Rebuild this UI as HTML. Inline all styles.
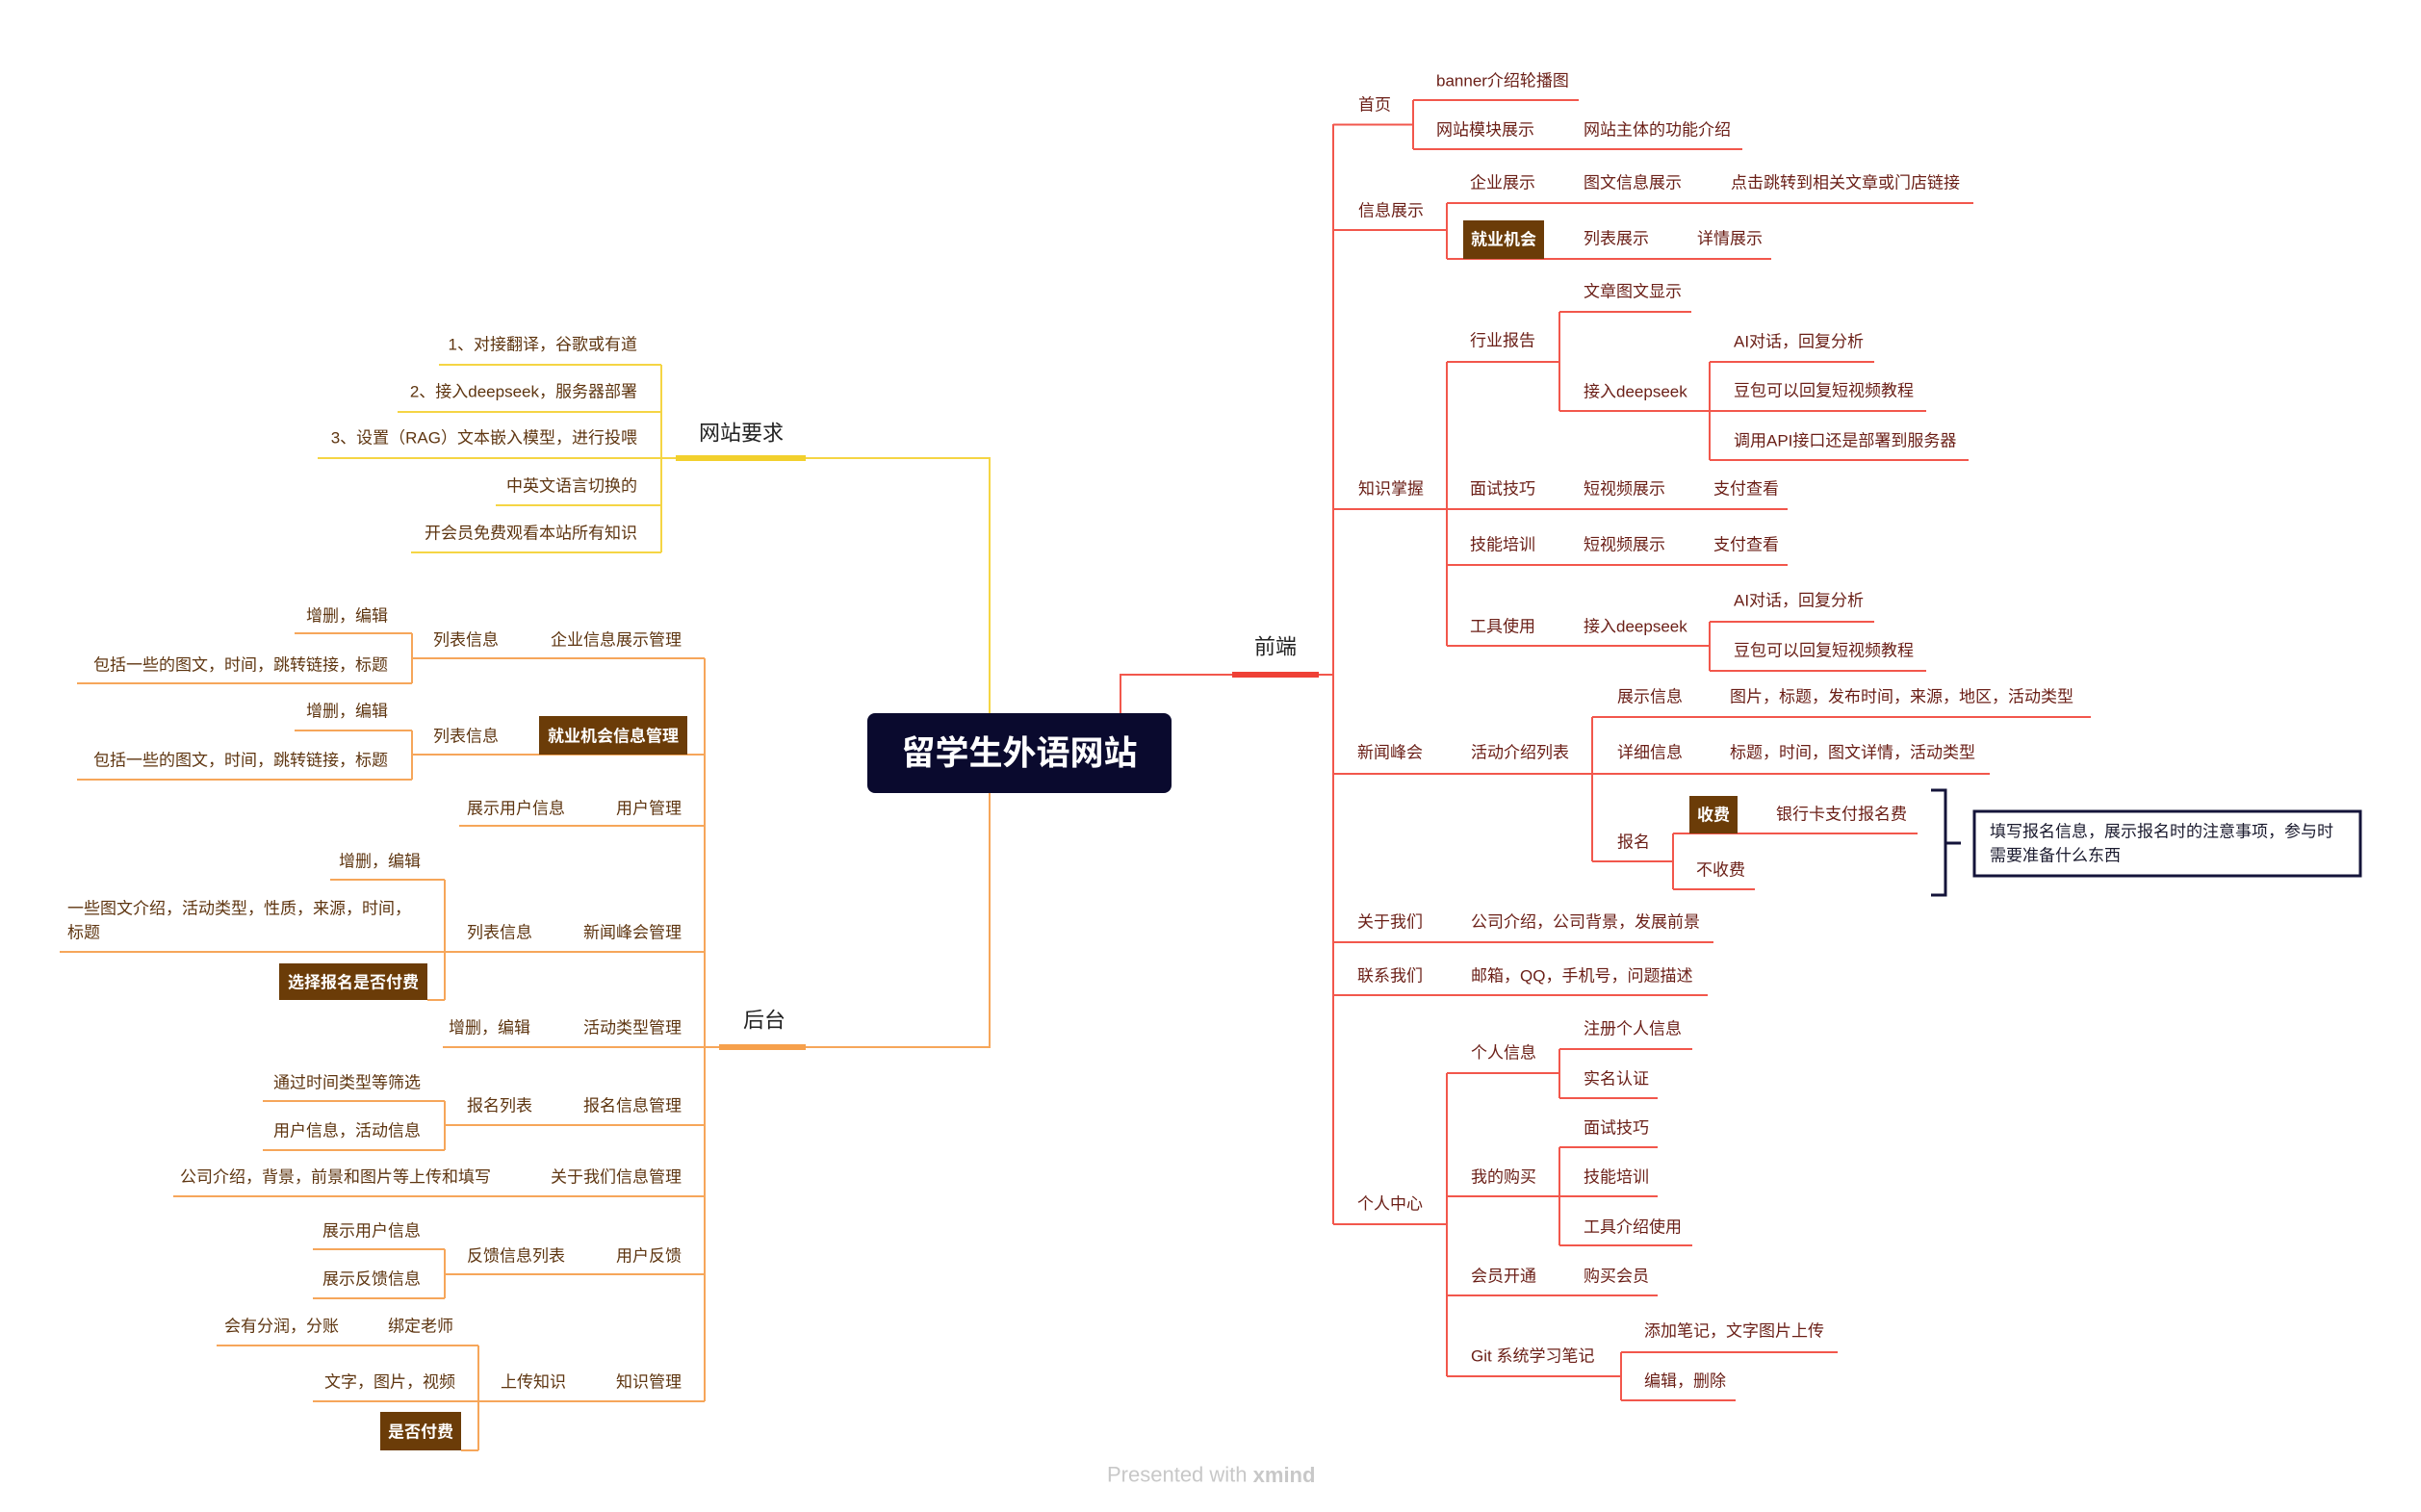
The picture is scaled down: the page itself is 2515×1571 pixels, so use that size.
<!DOCTYPE html>
<html><head><meta charset="utf-8"><style>
html,body{margin:0;padding:0;background:#fff;}
svg{display:block;}
text{font-family:"Liberation Sans","Noto Sans CJK SC",sans-serif;font-size:17px;dominant-baseline:central;}
.l{fill:#5e3510;}
.r{fill:#6a1e16;}
.w{fill:#fff;font-weight:bold;}
.y{stroke:#f5d544;stroke-width:2;fill:none;}
.o{stroke:#f6a65a;stroke-width:2;fill:none;}
.rd{stroke:#f2574c;stroke-width:2;fill:none;}
</style></head><body>
<svg width="2515" height="1571" viewBox="0 0 2515 1571" xmlns="http://www.w3.org/2000/svg">
<rect width="2515" height="1571" fill="#fff"/>

<!-- center -->
<rect x="901" y="741" width="316" height="83" rx="8" fill="#0a0a2e"/>
<text x="1059" y="783" text-anchor="middle" class="w" style="font-size:35px">留学生外语网站</text>

<!-- ===== Yellow: 网站要求 ===== -->
<path class="y" d="M1028 741 V476 H837"/>
<rect x="702" y="473" width="135" height="6" fill="#f2d02c"/>
<text x="770" y="450" text-anchor="middle" style="font-size:22px;fill:#222">网站要求</text>
<path class="y" d="M687 379 V574 M456 379 H687 M413 428 H687 M330 476 H702 M515 525 H687 M427 574 H687"/>
<text x="662" y="358" text-anchor="end" class="l">1、对接翻译，谷歌或有道</text>
<text x="662" y="407" text-anchor="end" class="l">2、接入deepseek，服务器部署</text>
<text x="662" y="455" text-anchor="end" class="l">3、设置（RAG）文本嵌入模型，进行投喂</text>
<text x="662" y="505" text-anchor="end" class="l">中英文语言切换的</text>
<text x="662" y="554" text-anchor="end" class="l">开会员免费观看本站所有知识</text>

<!-- ===== Orange: 后台 ===== -->
<path class="o" d="M1028 824 V1088 H837"/>
<rect x="747" y="1085" width="90" height="6" fill="#f6a04c"/>
<text x="794" y="1060" text-anchor="middle" style="font-size:22px;fill:#222">后台</text>
<path class="o" d="M732 684 V1456"/>
<!-- 企业 -->
<path class="o" d="M428 684 H732 M428 658 V710 M306 658 H428 M80 710 H428"/>
<text x="708" y="665" text-anchor="end" class="l">企业信息展示管理</text>
<text x="450" y="665" class="l">列表信息</text>
<text x="403" y="640" text-anchor="end" class="l">增删，编辑</text>
<text x="403" y="691" text-anchor="end" class="l">包括一些的图文，时间，跳转链接，标题</text>
<!-- 就业 -->
<path class="o" d="M428 784 H732 M428 759 V810 M306 759 H428 M80 810 H428"/>
<rect x="560" y="744" width="154" height="40" fill="#6b3c08"/>
<text x="637" y="765" text-anchor="middle" class="w" style="font-size:17px">就业机会信息管理</text>
<text x="450" y="765" class="l">列表信息</text>
<text x="403" y="739" text-anchor="end" class="l">增删，编辑</text>
<text x="403" y="790" text-anchor="end" class="l">包括一些的图文，时间，跳转链接，标题</text>
<!-- 用户管理 -->
<path class="o" d="M477 858 H732"/>
<text x="708" y="840" text-anchor="end" class="l">用户管理</text>
<text x="485" y="840" class="l">展示用户信息</text>
<!-- 新闻峰会 -->
<path class="o" d="M62 989 H732 M462 914 V1039 M343 914 H462 M444 1039 H462"/>
<text x="708" y="969" text-anchor="end" class="l">新闻峰会管理</text>
<text x="485" y="969" class="l">列表信息</text>
<text x="437" y="895" text-anchor="end" class="l">增删，编辑</text>
<text x="70" y="944" class="l">一些图文介绍，活动类型，性质，来源，时间，</text>
<text x="70" y="969" class="l">标题</text>
<rect x="290" y="1001" width="154" height="38" fill="#6b3c08"/>
<text x="367" y="1021" text-anchor="middle" class="w">选择报名是否付费</text>
<!-- 活动类型 -->
<path class="o" d="M460 1088 H747"/>
<text x="708" y="1068" text-anchor="end" class="l">活动类型管理</text>
<text x="466" y="1068" class="l">增删，编辑</text>
<!-- 报名信息 -->
<path class="o" d="M462 1169 H732 M462 1144 V1195 M273 1144 H462 M273 1195 H462"/>
<text x="708" y="1149" text-anchor="end" class="l">报名信息管理</text>
<text x="485" y="1149" class="l">报名列表</text>
<text x="437" y="1125" text-anchor="end" class="l">通过时间类型等筛选</text>
<text x="437" y="1175" text-anchor="end" class="l">用户信息，活动信息</text>
<!-- 关于我们 -->
<path class="o" d="M180 1243 H732"/>
<text x="708" y="1223" text-anchor="end" class="l">关于我们信息管理</text>
<text x="187" y="1223" class="l">公司介绍，背景，前景和图片等上传和填写</text>
<!-- 用户反馈 -->
<path class="o" d="M462 1324 H732 M462 1298 V1349 M325 1298 H462 M325 1349 H462"/>
<text x="708" y="1305" text-anchor="end" class="l">用户反馈</text>
<text x="485" y="1305" class="l">反馈信息列表</text>
<text x="437" y="1279" text-anchor="end" class="l">展示用户信息</text>
<text x="437" y="1329" text-anchor="end" class="l">展示反馈信息</text>
<!-- 知识管理 -->
<path class="o" d="M497 1456 H732 M497 1398 V1507 M225 1398 H497 M325 1456 H497 M479 1507 H497"/>
<text x="708" y="1436" text-anchor="end" class="l">知识管理</text>
<text x="520" y="1436" class="l">上传知识</text>
<text x="403" y="1378" class="l">绑定老师</text>
<text x="233" y="1378" class="l">会有分润，分账</text>
<text x="473" y="1436" text-anchor="end" class="l">文字，图片，视频</text>
<rect x="395" y="1467" width="84" height="40" fill="#6b3c08"/>
<text x="437" y="1488" text-anchor="middle" class="w">是否付费</text>

<!-- ===== Red: 前端 ===== -->
<path class="rd" d="M1164 741 V701 H1385"/>
<rect x="1280" y="698" width="90" height="6" fill="#ef4036"/>
<text x="1325" y="672" text-anchor="middle" style="font-size:22px;fill:#222">前端</text>
<path class="rd" d="M1385 129 V1272"/>

<!-- 首页 -->
<path class="rd" d="M1385 129.5 H1468 M1468 104 V155 M1468 104 H1640 M1468 155 H1810"/>
<text x="1411" y="109" class="r">首页</text>
<text x="1492" y="84" class="r">banner介绍轮播图</text>
<text x="1492" y="135" class="r">网站模块展示</text>
<text x="1645" y="135" class="r">网站主体的功能介绍</text>

<!-- 信息展示 -->
<path class="rd" d="M1385 239 H1503 M1503 211 V269 M1503 211 H2050 M1503 269 H1840"/>
<text x="1411" y="219" class="r">信息展示</text>
<text x="1527" y="190" class="r">企业展示</text>
<text x="1645" y="190" class="r">图文信息展示</text>
<text x="1798" y="190" class="r">点击跳转到相关文章或门店链接</text>
<rect x="1520" y="229" width="84" height="40" fill="#6b3c08"/>
<text x="1562" y="249" text-anchor="middle" class="w">就业机会</text>
<text x="1645" y="248" class="r">列表展示</text>
<text x="1763" y="248" class="r">详情展示</text>

<!-- 知识掌握 -->
<path class="rd" d="M1385 529 H1503 M1503 376 V671 M1503 376 H1620 M1620 324 V427 M1620 324 H1757 M1620 427 H1776 M1776 376 V478 M1776 376 H1947 M1776 427 H2001 M1776 478 H2045 M1503 587 H1857 M1503 529 H1857 M1503 671 H1776 M1776 646 V697 M1776 646 H1947 M1776 697 H2001"/>
<text x="1411" y="508" class="r">知识掌握</text>
<text x="1527" y="354" class="r">行业报告</text>
<text x="1645" y="303" class="r">文章图文显示</text>
<text x="1645" y="407" class="r">接入deepseek</text>
<text x="1801" y="355" class="r">AI对话，回复分析</text>
<text x="1801" y="406" class="r">豆包可以回复短视频教程</text>
<text x="1801" y="458" class="r">调用API接口还是部署到服务器</text>
<text x="1527" y="508" class="r">面试技巧</text>
<text x="1645" y="508" class="r">短视频展示</text>
<text x="1780" y="508" class="r">支付查看</text>
<text x="1527" y="566" class="r">技能培训</text>
<text x="1645" y="566" class="r">短视频展示</text>
<text x="1780" y="566" class="r">支付查看</text>
<text x="1527" y="651" class="r">工具使用</text>
<text x="1645" y="651" class="r">接入deepseek</text>
<text x="1801" y="624" class="r">AI对话，回复分析</text>
<text x="1801" y="676" class="r">豆包可以回复短视频教程</text>

<!-- 新闻峰会 -->
<path class="rd" d="M1385 804 H1654 M1654 745 V895 M1654 745 H2172 M1654 804 H2067 M1654 895 H1738 M1738 866 V924 M1738 866 H1992 M1738 924 H1823"/>
<text x="1410" y="782" class="r">新闻峰会</text>
<text x="1528" y="782" class="r">活动介绍列表</text>
<text x="1680" y="724" class="r">展示信息</text>
<text x="1797" y="724" class="r">图片，标题，发布时间，来源，地区，活动类型</text>
<text x="1680" y="782" class="r">详细信息</text>
<text x="1797" y="782" class="r">标题，时间，图文详情，活动类型</text>
<text x="1680" y="875" class="r">报名</text>
<rect x="1755" y="827" width="50" height="39" fill="#6b3c08"/>
<text x="1780" y="847" text-anchor="middle" class="w">收费</text>
<text x="1845" y="846" class="r">银行卡支付报名费</text>
<text x="1762" y="904" class="r">不收费</text>
<path d="M2006 821 H2021 V930 H2006 M2021 876 H2037" stroke="#14143a" stroke-width="3" fill="none"/>
<rect x="2051" y="843" width="401" height="67" fill="#fff" stroke="#14143a" stroke-width="3"/>
<text x="2067" y="864" style="fill:#1a1a2e">填写报名信息，展示报名时的注意事项，参与时</text>
<text x="2067" y="889" style="fill:#1a1a2e">需要准备什么东西</text>

<!-- 关于我们 / 联系我们 -->
<path class="rd" d="M1385 979 H1780 M1385 1034 H1774"/>
<text x="1410" y="958" class="r">关于我们</text>
<text x="1528" y="958" class="r">公司介绍，公司背景，发展前景</text>
<text x="1410" y="1014" class="r">联系我们</text>
<text x="1528" y="1014" class="r">邮箱，QQ，手机号，问题描述</text>

<!-- 个人中心 -->
<path class="rd" d="M1385 1272 H1503 M1503 1115 V1430 M1503 1115 H1620 M1620 1090 V1141 M1620 1090 H1758 M1620 1141 H1722 M1503 1243 H1620 M1620 1192 V1294 M1620 1192 H1722 M1620 1243 H1722 M1620 1294 H1758 M1503 1346 H1722 M1503 1430 H1684 M1684 1405 V1455 M1684 1405 H1909 M1684 1455 H1803"/>
<text x="1410" y="1251" class="r">个人中心</text>
<text x="1528" y="1094" class="r">个人信息</text>
<text x="1645" y="1069" class="r">注册个人信息</text>
<text x="1645" y="1121" class="r">实名认证</text>
<text x="1528" y="1223" class="r">我的购买</text>
<text x="1645" y="1172" class="r">面试技巧</text>
<text x="1645" y="1223" class="r">技能培训</text>
<text x="1645" y="1275" class="r">工具介绍使用</text>
<text x="1528" y="1326" class="r">会员开通</text>
<text x="1645" y="1326" class="r">购买会员</text>
<text x="1528" y="1409" class="r">Git 系统学习笔记</text>
<text x="1708" y="1383" class="r">添加笔记，文字图片上传</text>
<text x="1708" y="1435" class="r">编辑，删除</text>

<text x="1150" y="1532" style="font-size:22px;fill:#c8c8c8">Presented with <tspan style="font-weight:bold">xmind</tspan></text>
</svg>
</body></html>
